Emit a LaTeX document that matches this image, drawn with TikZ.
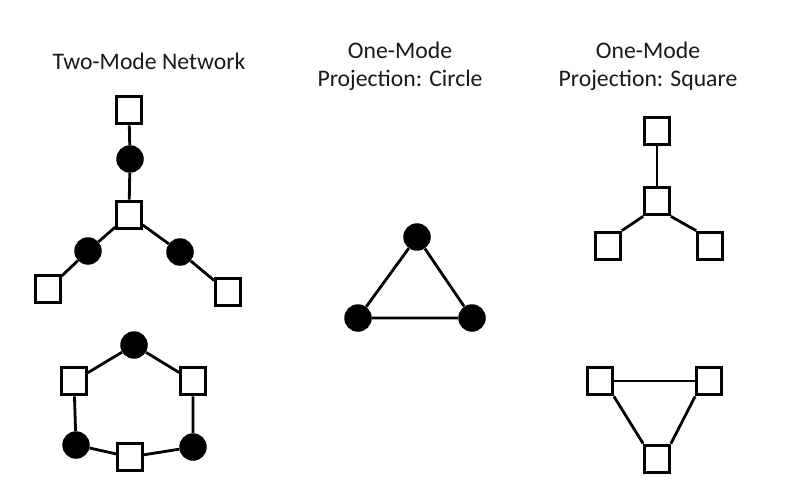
\documentclass[tikz,border=0pt]{standalone}
\usepackage{fontspec}
\setmainfont{Carlito}
\begin{document}
\begin{tikzpicture}[x=1pt,y=-1pt,
  sq/.style={draw=black,line width=3.2pt,fill=white,rectangle,inner sep=0pt,minimum width=24.5pt,minimum height=27.5pt},
  ci/.style={circle,fill=black,inner sep=0pt,minimum size=27.5pt},
  ln/.style={line width=2.8pt,draw=black},
  ttl/.style={font=\fontsize{23.7}{28}\selectfont,text=black!90,align=center,inner sep=0pt}]
\useasboundingbox (0,0) rectangle (786,486);
% titles
\node[ttl,anchor=base] (t1) at (149,70) {Two-Mode Network};
\node[ttl,anchor=base] (t2a) at (400,59) {One-Mode};
\node[ttl,anchor=base] (t2b) at (400,87) {Projection: Circle};
\node[ttl,anchor=base] (t3a) at (648,59) {One-Mode};
\node[ttl,anchor=base] (t3b) at (648,87) {Projection: Square};
% two-mode star
\node[sq] (s1) at (129,110) {};
\node[ci] (c1) at (130,159) {};
\node[sq] (s2) at (129,215) {};
\node[ci] (c2) at (88,251) {};
\node[ci] (c3) at (180,252) {};
\node[sq] (s3) at (48,289) {};
\node[sq] (s4) at (228,292) {};
\draw[ln] (s1) -- (c1) -- (s2);
\draw[ln] (s2) -- (c2) -- (s3);
\draw[ln] (s2) -- (c3) -- (s4);
% two-mode hexagon
\node[ci] (h1) at (134,345) {};
\node[sq] (h2) at (74,381) {};
\node[sq] (h3) at (193,381) {};
\node[ci] (h4) at (76,445) {};
\node[ci] (h5) at (193,447) {};
\node[sq] (h6) at (130,457) {};
\draw[ln] (h1) -- (h2) -- (h4) -- (h6) -- (h5) -- (h3) -- (h1);
% circle projection
\node[ci] (p1) at (417,237) {};
\node[ci] (p2) at (358,318) {};
\node[ci] (p3) at (472,318) {};
\draw[ln] (p1) -- (p2) -- (p3) -- (p1);
% square projection star
\node[sq] (q1) at (657,131) {};
\node[sq] (q2) at (657,201) {};
\node[sq] (q3) at (608,246) {};
\node[sq] (q4) at (710,246) {};
\draw[ln] (q1) -- (q2);
\draw[ln] (q2.south west) -- (q3.north east);
\draw[ln] (q2.south east) -- (q4.north west);
% square projection triangle
\node[sq] (r1) at (600,381) {};
\node[sq] (r2) at (709,381) {};
\node[sq] (r3) at (657,459) {};
\draw[ln] (r1) -- (r2);
\draw[ln] (r1.south east) -- (r3.north west);
\draw[ln] (r2.south west) -- (r3.north east);
\end{tikzpicture}
\end{document}
